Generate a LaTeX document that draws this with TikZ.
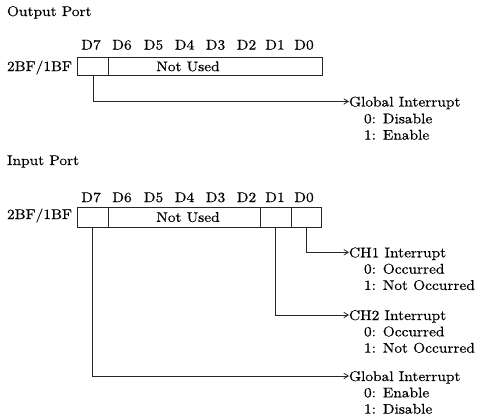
\documentclass[tikz,border=0pt]{standalone}
\usepackage{fontspec}
\newfontfamily\reffont[FakeStretch=1.1,FakeBold=0.5]{lmroman10-regular.otf}
\usetikzlibrary{arrows.meta}
\tikzset{
  txt/.style={font=\reffont\fontsize{14}{16.3}\selectfont, inner sep=0pt, outer sep=0pt, text=black},
  cell/.style={draw=black!85, line width=0.8pt, inner sep=0pt, outer sep=0pt},
  conn/.style={draw=black!85, line width=0.8pt, -{Straight Barb[length=4.5pt,width=5.5pt]}},
  ttl/.style={txt, anchor=west, text height=10pt, text depth=0pt},
  sub/.style={txt, anchor=base west},
  bit/.style={txt, anchor=base}
}
\begin{document}
\begin{tikzpicture}[x=1pt,y=-1pt]
\useasboundingbox (0,0) rectangle (484,418);

% ---------- Output Port ----------
\node[txt, anchor=base west] (outtitle) at (7,16) {Output Port};
\foreach \n/\x in {7/91,6/122,5/153.5,4/184.5,3/215.5,2/246.5,1/275,0/304}
  \node[bit] (ob\n) at (\x,49.5) {D\n};
\node[txt, anchor=base west] (oaddr) at (7,71) {2BF/1BF};
\node[cell, minimum width=31.4pt, minimum height=18.2pt] (o7) at (93,66.4) {};
\node[cell, minimum width=213.3pt, minimum height=18.2pt] (onu) at (215.35,66.4) {};
\node[txt] (onutxt) at (188,66.4) {Not Used};

\node[ttl] (og) at (349,101.5) {Global Interrupt};
\node[sub] (og0) at (364,123.3) {0: Disable};
\node[sub] (og1) at (364,139.6) {1: Enable};
\draw[conn] (o7.south) |- (og.west);

% ---------- Input Port ----------
\node[txt, anchor=base west] (intitle) at (7,165) {Input Port};
\foreach \n/\x in {7/91,6/122,5/153.5,4/184.5,3/215.5,2/246.5,1/275,0/304}
  \node[bit] (ib\n) at (\x,202) {D\n};
\node[txt, anchor=base west] (iaddr) at (7,219) {2BF/1BF};
\node[cell, minimum width=31pt, minimum height=20.3pt] (i7) at (92.8,217.15) {};
\node[cell, minimum width=152.4pt, minimum height=20.3pt] (inu) at (184.5,217.15) {};
\node[cell, minimum width=30.3pt, minimum height=20.3pt] (i1) at (275.85,217.15) {};
\node[cell, minimum width=30.3pt, minimum height=20.3pt] (i0) at (306.15,217.15) {};
\node[txt] (inutxt) at (188,217.15) {Not Used};

\node[ttl] (c1) at (349,252.3) {CH1 Interrupt};
\node[sub] (c10) at (364,273.6) {0: Occurred};
\node[sub] (c11) at (364,289.9) {1: Not Occurred};

\node[ttl] (c2) at (349,315) {CH2 Interrupt};
\node[sub] (c20) at (364,336.3) {0: Occurred};
\node[sub] (c21) at (364,352.6) {1: Not Occurred};

\node[ttl] (ig) at (349,376) {Global Interrupt};
\node[sub] (ig0) at (364,397.3) {0: Enable};
\node[sub] (ig1) at (364,413.6) {1: Disable};

\draw[conn] (i0.south) |- (c1.west);
\draw[conn] (i1.south) |- (c2.west);
\draw[conn] (i7.south) |- (ig.west);
\end{tikzpicture}
\end{document}
